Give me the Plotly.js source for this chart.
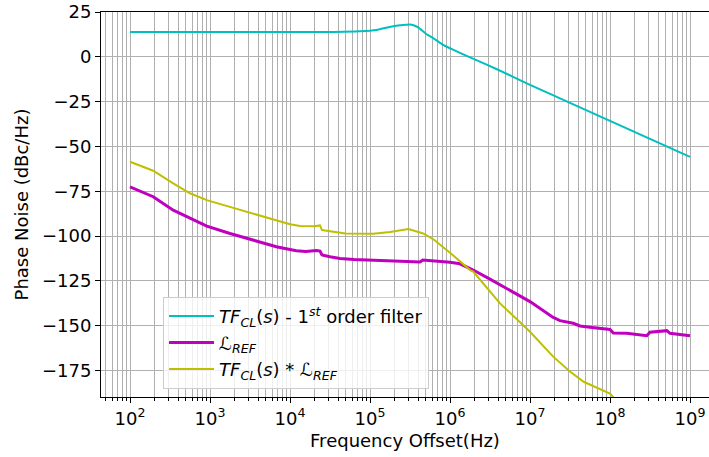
<!DOCTYPE html>
<html>
<head>
<meta charset="utf-8">
<script src="https://cdn.plot.ly/plotly-3.0.1.min.js"></script>
<style>html,body{margin:0;padding:0;background:#fff;}#chart{width:709px;height:457px;}</style>
</head>
<body>
<div id="chart"></div>
<script>
// Closed-loop transfer function (1st order filter)
const tfFreq = [1e2, 1e3, 1e4, 3e4, 7.5e4, 1.2e5, 1.95e5, 2.6e5, 3.16e5, 3.5e5, 4e5, 5.1e5, 6.3e5, 8.3e5, 1e6, 1.33e6, 2.14e6, 3.8e6, 1e7, 3.16e7, 1e8, 3.16e8, 1e9];
const tfVals = [13.8, 13.8, 13.8, 13.9, 14.3, 15.0, 17.1, 17.8, 18.0, 17.6, 16.4, 12.6, 10.2, 6.5, 4.8, 2.2, -1.8, -6.8, -15.6, -25.7, -35.7, -45.8, -55.8];

// Reference phase noise L_REF
const refFreq = [100, 126, 195, 347, 562, 912, 1778, 3467, 6761, 1e4, 1.2e4, 1.58e4, 2.14e4, 2.37e4, 2.51e4, 3.16e4, 4.22e4, 6.31e4, 1.1e5, 1.78e5, 2.88e5, 4.22e5, 4.57e5, 5.01e5, 7.5e5, 1e6, 1.33e6, 1.62e6, 1.95e6, 3.16e6, 5.13e6, 1e7, 1.95e7, 2.37e7, 3.47e7, 4.22e7, 5.62e7, 1e8, 1.1e8, 1.62e8, 2.88e8, 3.16e8, 5.13e8, 5.62e8, 1e9];
const refVals = [-72.5, -74.5, -78.0, -85.5, -90.1, -94.4, -98.5, -102.2, -105.9, -107.4, -108.1, -108.5, -108.0, -108.3, -110.5, -111.5, -112.4, -113.0, -113.3, -113.7, -114.0, -114.4, -113.3, -113.4, -114.2, -114.5, -115.4, -117.2, -118.9, -124.0, -129.1, -136.5, -145.3, -147.1, -148.6, -150.1, -150.8, -152.0, -154.0, -154.2, -155.5, -153.6, -152.7, -154.2, -155.5];

// Filtered output TF_CL(s) * L_REF
const outFreq = [100, 195, 347, 562, 912, 1778, 3467, 6761, 1e4, 1.33e4, 2.0e4, 2.37e4, 2.51e4, 4.9e4, 1.1e5, 1.78e5, 3.02e5, 4.22e5, 4.68e5, 6.31e5, 9.12e5, 1e6, 1.78e6, 1.95e6, 4.22e6, 1e7, 1.95e7, 3.16e7, 4.68e7, 1e8, 1.1e8];
const outVals = [-58.5, -63.5, -70.6, -76.1, -79.9, -83.6, -87.3, -91.0, -93.4, -94.3, -94.5, -94.0, -96.6, -98.5, -98.6, -97.7, -96.0, -98.0, -98.6, -102.0, -107.7, -109.2, -118.9, -119.8, -137.5, -153.3, -167.2, -175.5, -181.2, -187.8, -189.8];

const seriesNames = [
  '<i>TF</i><sub><i>CL</i></sub>(<i>s</i>) - 1<sup><i>st</i></sup> order filter',
  '\u2112<sub><i>REF</i></sub>',
  '<i>TF</i><sub><i>CL</i></sub>(<i>s</i>) * \u2112<sub><i>REF</i></sub>'
];
const xTickVals = [1e2, 1e3, 1e4, 1e5, 1e6, 1e7, 1e8, 1e9];
const xTickText = ['10<sup>2</sup>', '10<sup>3</sup>', '10<sup>4</sup>', '10<sup>5</sup>', '10<sup>6</sup>', '10<sup>7</sup>', '10<sup>8</sup>', '10<sup>9</sup>'];
const yTicks = [25, 0, -25, -50, -75, -100, -125, -150, -175];

const traces = [
  {x: tfFreq, y: tfVals, name: seriesNames[0], mode: 'lines', line: {color: '#00bfbf', width: 2, shape: 'spline', smoothing: 0.6}},
  {x: refFreq, y: refVals, name: seriesNames[1], mode: 'lines', line: {color: '#bf00bf', width: 3}},
  {x: outFreq, y: outVals, name: seriesNames[2], mode: 'lines', line: {color: '#bfbf00', width: 2}}
];

const font = {family: 'DejaVu Sans', size: 18, color: '#000'};
const layout = {
  width: 709, height: 457,
  margin: {l: 101, r: 0, t: 12, b: 60},
  paper_bgcolor: '#fff', plot_bgcolor: '#fff',
  font: font,
  showlegend: true,
  legend: {
    x: 0.102, y: 0.021, xanchor: 'left', yanchor: 'bottom',
    bgcolor: 'rgba(255,255,255,0.8)', bordercolor: '#cccccc', borderwidth: 1,
    font: {family: 'DejaVu Sans', size: 18, color: '#000'},
    itemwidth: 45,
    tracegroupgap: 0
  },
  xaxis: {
    type: 'log', range: [1.6375, 9.2375],
    tickvals: xTickVals, ticktext: xTickText,
    showgrid: true, gridcolor: '#b0b0b0', gridwidth: 1,
    minor: {dtick: 'D1', showgrid: true, gridcolor: '#b0b0b0', gridwidth: 1, ticks: 'outside', ticklen: 3, tickcolor: '#000'},
    ticks: 'outside', ticklen: 5, tickcolor: '#000',
    showline: true, linecolor: '#000', linewidth: 1, mirror: true,
    zeroline: false,
    tickfont: font,
    title: {text: 'Frequency Offset(Hz)', font: font, standoff: 6}
  },
  yaxis: {
    range: [-189.7, 25],
    tickvals: yTicks,
    showgrid: true, gridcolor: '#b0b0b0', gridwidth: 1,
    ticks: 'outside', ticklen: 5, tickcolor: '#000',
    showline: true, linecolor: '#000', linewidth: 1,
    zeroline: false,
    tickfont: font,
    title: {text: 'Phase Noise (dBc/Hz)', font: font, standoff: 8}
  }
};

Plotly.newPlot('chart', traces, layout, {displayModeBar: false, staticPlot: true});
</script>
</body>
</html>
